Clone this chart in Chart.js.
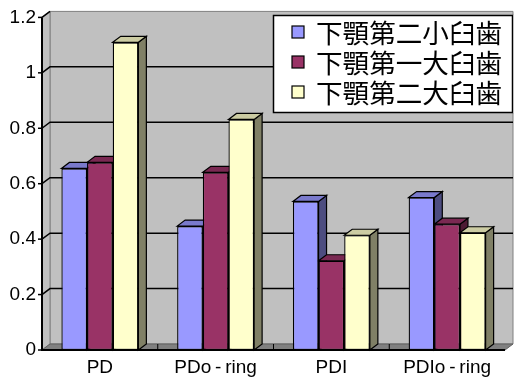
<!DOCTYPE html>
<html>
<head>
<meta charset="utf-8">
<script src="https://cdn.jsdelivr.net/npm/chart.js@4"></script>
<style>
  html, body { margin: 0; padding: 0; background: #fff; }
  #wrap { width: 514px; height: 380px; }
</style>
</head>
<body>
<div id="wrap"><canvas id="chart" width="514" height="380"></canvas></div>
<script>
const categories = ['PD', 'PDo\u2009-\u2009ring', 'PDI', 'PDIo\u2009-\u2009ring'];
const seriesNames = ['下顎第二小臼歯', '下顎第一大臼歯', '下顎第二大臼歯'];
const premolar2 = [0.655, 0.447, 0.536, 0.55];
const molar1 = [0.677, 0.641, 0.322, 0.454];
const molar2 = [1.11, 0.832, 0.414, 0.423];
const yTickLabels = ['0', '0.2', '0.4', '0.6', '0.8', '1', '1.2'];

const FRONT = ['#9999ff', '#993366', '#ffffcc'];
const TOP = ['#7a7acc', '#7a2952', '#cccca3'];
const SIDE = ['#4d4d80', '#4d1a33', '#808066'];
const DX = 8, DY = 6;
const FONT = "'Liberation Sans', Arial, sans-serif";

function poly(ctx, pts, fill, stroke, lw) {
    ctx.beginPath();
    ctx.moveTo(pts[0][0], pts[0][1]);
    for (let i = 1; i < pts.length; i++) ctx.lineTo(pts[i][0], pts[i][1]);
    ctx.closePath();
    if (fill) { ctx.fillStyle = fill; ctx.fill(); }
    if (stroke) { ctx.strokeStyle = stroke; ctx.lineWidth = lw || 1; ctx.stroke(); }
}

// walls, floor, grid and the 3d faces of the bars
const box3d = {
    id: 'box3d',
    beforeDatasetsDraw(chart) {
        const ctx = chart.ctx;
        const { left, right, top, bottom } = chart.chartArea;
        const y = chart.scales.y;
        ctx.save();
        poly(ctx, [[left + DX, top - DY], [right + DX, top - DY], [right + DX, bottom - DY], [left + DX, bottom - DY]], '#c0c0c0', '#808080', 1);
        poly(ctx, [[left, top], [left + DX, top - DY], [left + DX, bottom - DY], [left, bottom]], '#c0c0c0', '#808080', 1);
        poly(ctx, [[left, bottom], [right, bottom], [right + DX, bottom - DY], [left + DX, bottom - DY]], '#808080', '#606060', 1);

        ctx.strokeStyle = '#000';
        ctx.lineWidth = 1.5;
        y.ticks.forEach(t => {
            const py = y.getPixelForValue(t.value);
            if (t.value > 0 && t.value < 1.2) {
                ctx.beginPath();
                ctx.moveTo(left, py);
                ctx.lineTo(left + DX, py - DY);
                ctx.lineTo(right + DX, py - DY);
                ctx.stroke();
            } else if (t.value >= 1.2) {
                ctx.beginPath();
                ctx.moveTo(left, py);
                ctx.lineTo(left + DX, py - DY);
                ctx.stroke();
            }
        });

        // floor separators between categories
        const x = chart.scales.x;
        ctx.lineWidth = 1;
        ctx.strokeStyle = '#000';
        for (let i = 1; i < categories.length; i++) {
            const bx = (x.getPixelForValue(i - 1) + x.getPixelForValue(i)) / 2;
            ctx.beginPath();
            ctx.moveTo(bx, bottom - DY);
            ctx.lineTo(bx, bottom);
            ctx.stroke();
        }

        chart.data.datasets.forEach((ds, di) => {
            chart.getDatasetMeta(di).data.forEach(el => {
                const l = el.x - el.width / 2, r = el.x + el.width / 2;
                const t = el.y, b = el.base;
                poly(ctx, [[r, t], [r + DX, t - DY], [r + DX, b - DY], [r, b]], SIDE[di], '#000', 1.2);
                poly(ctx, [[l, t], [l + DX, t - DY], [r + DX, t - DY], [r, t]], TOP[di], '#000', 1.2);
            });
        });
        ctx.restore();
    },
    afterDatasetsDraw(chart) {
        const ctx = chart.ctx;
        const { left, right, top, bottom } = chart.chartArea;
        const y = chart.scales.y;
        ctx.save();
        ctx.strokeStyle = '#000';
        ctx.lineWidth = 2;
        ctx.beginPath();
        ctx.moveTo(left, top);
        ctx.lineTo(left, bottom);
        ctx.lineTo(right, bottom);
        ctx.stroke();
        ctx.lineWidth = 1.5;
        y.ticks.forEach(t => {
            const py = y.getPixelForValue(t.value);
            ctx.beginPath();
            ctx.moveTo(left - 4, py);
            ctx.lineTo(left, py);
            ctx.stroke();
        });
        ctx.restore();
    },
    afterDraw(chart) {
        const ctx = chart.ctx;
        ctx.save();
        ctx.fillStyle = '#fff';
        ctx.fillRect(273, 15, 241, 98);
        ctx.strokeStyle = '#000';
        ctx.lineWidth = 1.5;
        ctx.strokeRect(273.5, 15.5, 239, 97);
        ctx.font = "26.6px 'Noto Sans CJK JP', sans-serif";
        ctx.textBaseline = 'middle';
        chart.data.datasets.forEach((ds, i) => {
            const cy = 32 + i * 30;
            ctx.fillStyle = ds.backgroundColor;
            ctx.fillRect(292, cy - 6, 12, 12);
            ctx.lineWidth = 1.2;
            ctx.strokeRect(292, cy - 6, 12, 12);
            ctx.fillStyle = '#000';
            ctx.fillText(ds.label, 316, cy + 1);
        });
        ctx.restore();
    }
};

const datasets = [premolar2, molar1, molar2].map((vals, i) => ({
    label: seriesNames[i],
    data: vals,
    backgroundColor: FRONT[i],
    borderColor: '#000',
    borderWidth: 1.3,
    borderSkipped: false,
    categoryPercentage: 0.665,
    barPercentage: 1.0
}));

new Chart(document.getElementById('chart'), {
    type: 'bar',
    data: { labels: categories, datasets: datasets },
    options: {
        responsive: false,
        animation: false,
        devicePixelRatio: 1,
        layout: { padding: { top: 17, right: 9, left: 0, bottom: 0 } },
        plugins: { legend: { display: false }, tooltip: { enabled: false } },
        scales: {
            x: {
                grid: { display: false, drawTicks: false },
                border: { display: false },
                ticks: { color: '#000', font: { family: FONT, size: 19 }, padding: 6, maxRotation: 0 },
                afterFit: s => { s.height = 30; }
            },
            y: {
                min: 0, max: 1.2,
                grid: { display: false, drawTicks: false },
                border: { display: false },
                ticks: {
                    stepSize: 0.2,
                    color: '#000',
                    font: { family: FONT, size: 19 },
                    padding: 6,
                    callback: (v, i) => yTickLabels[i]
                },
                afterFit: s => { s.width = 42; }
            }
        }
    },
    plugins: [box3d]
});
</script>
</body>
</html>
